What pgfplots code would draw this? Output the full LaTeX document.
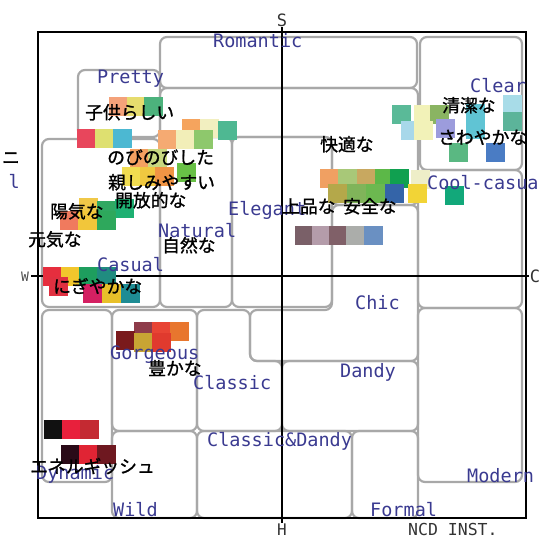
\documentclass[border=0pt]{standalone}
\usepackage{pgfplots}
\pgfplotsset{compat=1.18}
\usepackage{pgfplotstable}
\usepackage{fontspec}
\newfontfamily\jp{Noto Sans CJK JP}[FakeBold=1.2]
\newfontfamily\mono{DejaVu Sans Mono}
\definecolor{lblue}{HTML}{3A3A90}
\definecolor{gridc}{HTML}{A8A8A8}
\tikzset{
  gbox/.style={draw=gridc, line width=2.2pt, rounded corners=7pt},
  lbl/.style={anchor=base west, inner sep=0pt, text=lblue, font=\mono\fontsize{18.5}{19}\selectfont},
  jtx/.style={anchor=base west, inner sep=0pt, text=black, font=\jp\fontsize{17.8}{18}\selectfont}}

\pgfplotstableread{
x y c
118 106 F4A27A
136 106 E6DC6E
153 106 4CB27C
86 138 E8465C
104 138 DEE070
122 138 4CB8D2
191 128 F5A45E
209 128 F2EFC0
167 139 F5AA72
185 139 F2EEB8
203 139 8EC86C
227 130 4EB892
139 158 F4A060
157 158 C8D880
131 176 F0DC50
149 176 F0C840
164 176 F09444
186 172 68C046
88 207 F0C848
106 210 30A862
124 208 1EB072
69 220 F07A5E
87 220 F2C63A
106 220 2EA85C
52 276 E62E3E
70 276 F2C62C
88 276 1E9E5E
106 276 208C80
58 286 E03040
92 293 D42062
111 293 E8C02A
130 293 1E8C94
143 331 8E3C4A
161 331 E84434
179 331 E8762E
125 340 7A1A1C
143 342 C8A434
161 342 E03A2E
53 429 111111
71 429 E8203C
89 429 C42A32
70 454 2A0A18
88 454 E02434
106 454 6E1820
420 179 EEEEC8
329 178 F0A062
347 178 A8C878
366 178 C8A860
384 178 5CB848
399 178 10A050
337 193 B4A84A
356 193 80B45A
375 193 6CB850
394 193 3464A8
417 193 F2D436
454 195 12A87A
304 235 7A6068
321 235 B49CAA
338 235 806068
355 235 ABADAA
373 235 6A90C2
401 114 5ABA98
423 114 F2F2B8
439 114 8AB462
410 130 A8D8EA
423 130 F2F2B8
445 128 9C9CDC
475 113 60C4D4
475 129 60C4D4
512 104 A8DCE8
512 121 5CB49A
458 152 5AB882
495 152 4A7CC4
}\squares

\newcommand\drawlabels{%
\node[lbl] at (axis cs:213,48) {Romantic};
\node[lbl] at (axis cs:97,83) {Pretty};
\node[lbl] at (axis cs:470,92) {Clear};
\node[lbl] at (axis cs:427,189) {Cool-casual};
\node[lbl] at (axis cs:228,215) {Elegant};
\node[lbl] at (axis cs:158,237) {Natural};
\node[lbl] at (axis cs:97,271) {Casual};
\node[lbl] at (axis cs:355,309) {Chic};
\node[lbl] at (axis cs:110,359) {Gorgeous};
\node[lbl] at (axis cs:193,389) {Classic};
\node[lbl] at (axis cs:340,377) {Dandy};
\node[lbl] at (axis cs:207,446) {Classic\&Dandy};
\node[lbl] at (axis cs:36,479) {Dynamic};
\node[lbl] at (axis cs:467,482) {Modern};
\node[lbl] at (axis cs:113,516) {Wild};
\node[lbl] at (axis cs:370,516) {Formal};
\node[lbl, anchor=base east] at (axis cs:20,188) {l};
\node[anchor=base, inner sep=0pt, text=black!80, font=\mono\fontsize{17}{18}\selectfont] at (axis cs:282,27) {S};
\node[anchor=base, inner sep=0pt, text=black!80, font=\mono\fontsize{16}{18}\selectfont] at (axis cs:282,535) {H};
\node[anchor=base, inner sep=0pt, text=black!70, font=\mono\fontsize{13}{14}\selectfont] at (axis cs:25,281) {W};
\node[anchor=base, inner sep=0pt, text=black!80, font=\mono\fontsize{17}{18}\selectfont] at (axis cs:535,282) {C};
\node[anchor=base west, inner sep=0pt, text=black!80, font=\mono\fontsize{16.5}{18}\selectfont] at (axis cs:408,535) {NCD INST.};
\node[jtx] at (axis cs:85,119) {子供らしい};
\node[jtx] at (axis cs:107,164) {のびのびした};
\node[jtx] at (axis cs:108,189) {親しみやすい};
\node[jtx] at (axis cs:115,207) {開放的な};
\node[jtx] at (axis cs:50,218) {陽気な};
\node[jtx] at (axis cs:28,246) {元気な};
\node[jtx] at (axis cs:162,252) {自然な};
\node[jtx] at (axis cs:53,293) {にぎやかな};
\node[jtx] at (axis cs:148,375) {豊かな};
\node[jtx] at (axis cs:30,473) {エネルギッシュ};
\node[jtx] at (axis cs:320,151) {快適な};
\node[jtx] at (axis cs:282,213) {上品な};
\node[jtx] at (axis cs:343,213) {安全な};
\node[jtx] at (axis cs:442,112) {清潔な};
\node[jtx] at (axis cs:438,144) {さわやかな};
\node[jtx, anchor=base east] at (axis cs:20,164) {ニ};
}

\begin{document}
\begin{tikzpicture}
\useasboundingbox (0,0) rectangle (539pt,538pt);
\clip (0,0) rectangle (539pt,538pt);
\begin{axis}[at={(0,0)}, anchor=south west, width=539pt, height=538pt, scale only axis,
  xmin=0, xmax=539, ymin=0, ymax=538, y dir=reverse, hide axis, clip=false,
  after end axis/.code={\drawlabels}]
% grey region boxes
\draw[gbox] (160,37) rectangle (417,88);
\draw[gbox] (420,37) rectangle (522,170);
\draw[gbox] (78,70) rectangle (160,137);
\draw[gbox] (160,88) -- (418,88) -- (418,205) -- (332,205) -- (332,137) -- (160,137) -- cycle;
\draw[gbox] (42,139) rectangle (160,307);
\draw[gbox] (160,137) rectangle (232,307);
\draw[gbox] (232,137) rectangle (332,307);
\draw[gbox] (418,170) rectangle (522,308);
\draw[gbox] (332,205) -- (418,205) -- (418,361) -- (250,361) -- (250,310) -- (332,310) -- cycle;
\draw[gbox] (418,308) rectangle (522,482);
\draw[gbox] (42,310) rectangle (112,482);
\draw[gbox] (112,310) rectangle (197,431);
\draw[gbox] (197,310) -- (250,310) -- (250,361) -- (282,361) -- (282,431) -- (197,431) -- cycle;
\draw[gbox] (282,361) rectangle (418,431);
\draw[gbox] (112,431) rectangle (197,518);
\draw[gbox] (197,431) rectangle (352,518);
\draw[gbox] (352,431) rectangle (418,518);
% frame and axes
\draw[black, line width=2pt] (38,32) rectangle (526,518);
\draw[black, line width=1.6pt] (282,27) -- (282,523);
\draw[black, line width=1.6pt] (31,276) -- (529,276);
% colour squares
\addplot[scatter, only marks, mark=square*, mark size=9pt,
  point meta=explicit symbolic,
  scatter/@pre marker code/.code={\definecolor{sqc}{HTML}{\pgfplotspointmeta}\scope[fill=sqc,draw=sqc]},
  scatter/@post marker code/.code={\endscope}]
  table[x=x, y=y, meta=c] {\squares};
\end{axis}
\end{tikzpicture}
\end{document}
